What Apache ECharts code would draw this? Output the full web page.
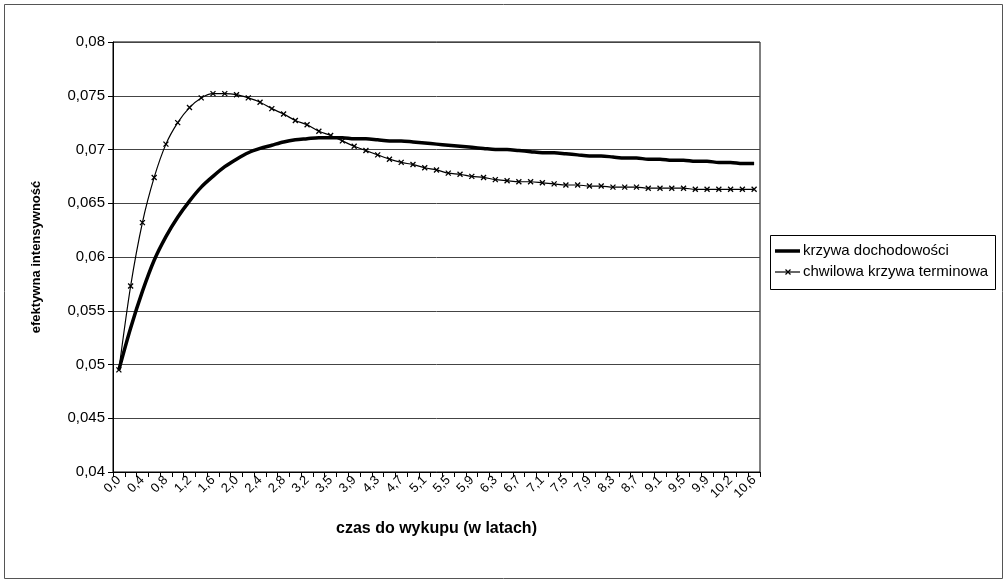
<!DOCTYPE html>
<html>
<head>
<meta charset="utf-8">
<script src="https://cdn.jsdelivr.net/npm/echarts@6/dist/echarts.min.js"></script>
<style>
html,body{margin:0;padding:0;background:#fff;}
#chart{width:1007px;height:583px;}
</style>
</head>
<body>
<div id="chart"></div>
<script>
var categories = ["0,0","0,2","0,4","0,6","0,8","1,0","1,2","1,4","1,6","1,8","2,0","2,2","2,4","2,6","2,8","3,0","3,2","3,3","3,5","3,7","3,9","4,1","4,3","4,5","4,7","4,9","5,1","5,3","5,5","5,7","5,9","6,1","6,3","6,5","6,7","6,9","7,1","7,3","7,5","7,7","7,9","8,1","8,3","8,5","8,7","8,9","9,1","9,3","9,5","9,7","9,9","10,0","10,2","10,4","10,6"];

var yieldCurve = [0.0495,0.0534,0.0568,0.0597,0.0619,0.0637,0.0652,0.0665,0.0675,0.0684,0.0691,0.0697,0.0701,0.0704,0.0707,0.0709,0.0710,0.0711,0.0711,0.0711,0.0710,0.0710,0.0709,0.0708,0.0708,0.0707,0.0706,0.0705,0.0704,0.0703,0.0702,0.0701,0.0700,0.0700,0.0699,0.0698,0.0697,0.0697,0.0696,0.0695,0.0694,0.0694,0.0693,0.0692,0.0692,0.0691,0.0691,0.0690,0.0690,0.0689,0.0689,0.0688,0.0688,0.0687,0.0687];

var forwardCurve = [0.0495,0.0573,0.0632,0.0674,0.0705,0.0725,0.0739,0.0748,0.0752,0.0752,0.0751,0.0748,0.0744,0.0738,0.0733,0.0727,0.0723,0.0717,0.0713,0.0708,0.0703,0.0699,0.0695,0.0691,0.0688,0.0686,0.0683,0.0681,0.0678,0.0677,0.0675,0.0674,0.0672,0.0671,0.0670,0.0670,0.0669,0.0668,0.0667,0.0667,0.0666,0.0666,0.0665,0.0665,0.0665,0.0664,0.0664,0.0664,0.0664,0.0663,0.0663,0.0663,0.0663,0.0663,0.0663];

var yTickLabels = ["0,04","0,045","0,05","0,055","0,06","0,065","0,07","0,075","0,08"];
var seriesNames = ["krzywa dochodowości","chwilowa krzywa terminowa"];

var FONT = '"Liberation Sans", Arial, sans-serif';
var MARK = 'path://M0,0L10,10M10,0L0,10';
var chart = echarts.init(document.getElementById('chart'), null, {renderer:'canvas'});

// legend drawn as a small boxed key (right side)
var LX = 770, LY = 235;
var legendGraphic = {
  type: 'group', x: LX, y: LY, silent: true,
  children: [
    {type: 'rect', shape: {x: 0.5, y: 0.5, width: 225, height: 54}, style: {fill: '#fff', stroke: '#000', lineWidth: 1}},
    {type: 'line', shape: {x1: 5, y1: 16, x2: 30, y2: 16}, style: {stroke: '#000', lineWidth: 3.5}},
    {type: 'text', x: 33, y: 16, style: {text: seriesNames[0], fill: '#000', font: '15px ' + FONT, verticalAlign: 'middle'}},
    {type: 'line', shape: {x1: 5, y1: 37, x2: 30, y2: 37}, style: {stroke: '#000', lineWidth: 1.2}},
    {type: 'line', shape: {x1: 15.5, y1: 34.5, x2: 20.5, y2: 39.5}, style: {stroke: '#000', lineWidth: 1.3}},
    {type: 'line', shape: {x1: 20.5, y1: 34.5, x2: 15.5, y2: 39.5}, style: {stroke: '#000', lineWidth: 1.3}},
    {type: 'text', x: 33, y: 37, style: {text: seriesNames[1], fill: '#000', font: '15px ' + FONT, verticalAlign: 'middle'}}
  ]
};

chart.setOption({
  animation: false,
  backgroundColor: '#fff',
  graphic: [{
    type: 'rect', silent: true, z: -1,
    shape: {x: 4.5, y: 4.5, width: 998, height: 574},
    style: {fill: 'none', stroke: '#555', lineWidth: 1}
  }, legendGraphic],
  grid: {left: 113, right: 247, top: 42, bottom: 111, show: true, borderColor: '#000', borderWidth: 1, backgroundColor: 'transparent'},
  xAxis: {
    type: 'category', data: categories, boundaryGap: true,
    name: 'czas do wykupu (w latach)', nameLocation: 'middle', nameGap: 49,
    nameTextStyle: {fontFamily: FONT, fontSize: 16, fontWeight: 'bold', color: '#000'},
    axisLine: {lineStyle: {color: '#000', width: 1}},
    axisTick: {show: true, interval: 0, length: 5, lineStyle: {color: '#000'}},
    axisLabel: {interval: 1, rotate: 45, fontFamily: FONT, fontSize: 13, color: '#000', margin: 6},
    splitLine: {show: false}
  },
  yAxis: {
    type: 'value', min: 0.04, max: 0.08, interval: 0.005,
    name: 'efektywna intensywność', nameLocation: 'middle', nameGap: 70, nameRotate: 90,
    nameTextStyle: {fontFamily: FONT, fontSize: 13, fontWeight: 'bold', color: '#000'},
    axisLine: {show: true, lineStyle: {color: '#000', width: 1}},
    axisTick: {show: true, length: 5, lineStyle: {color: '#000'}},
    axisLabel: {fontFamily: FONT, fontSize: 15, color: '#000', margin: 8,
      formatter: function (v) { return yTickLabels[Math.round((v - 0.04) / 0.005)]; }},
    splitLine: {show: true, lineStyle: {color: '#444', width: 1}}
  },
  series: [{
    name: seriesNames[0], type: 'line', data: yieldCurve,
    smooth: 0.3, symbol: 'none',
    lineStyle: {color: '#000', width: 3.5},
    itemStyle: {color: '#000'}
  }, {
    name: seriesNames[1], type: 'line', data: forwardCurve,
    smooth: 0.3, symbol: MARK, symbolSize: 5, showSymbol: true,
    lineStyle: {color: '#000', width: 1.2},
    itemStyle: {color: '#000', borderColor: '#000', borderWidth: 1.3}
  }]
});
</script>
</body>
</html>
